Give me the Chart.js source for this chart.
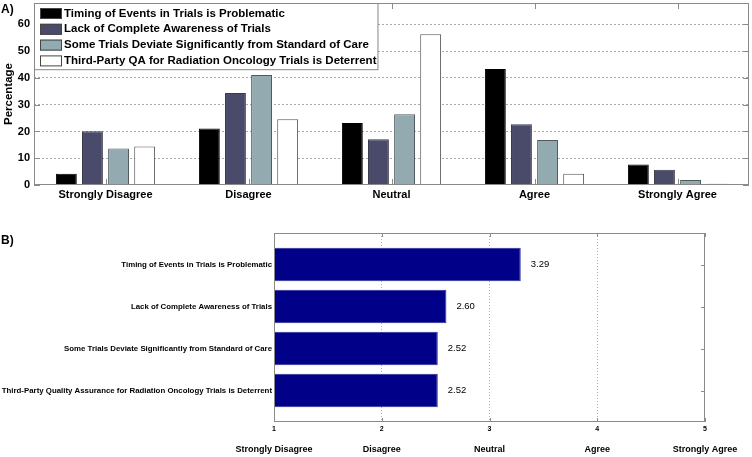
<!DOCTYPE html>
<html>
<head>
<meta charset="utf-8">
<script src="https://cdn.jsdelivr.net/npm/chart.js@4.4.0/dist/chart.umd.min.js"></script>
<style>
  html, body { margin: 0; padding: 0; background: #fff; }
  #wrap { position: relative; width: 752px; height: 457px; overflow: hidden; font-family: Arial, "Liberation Sans", sans-serif; }
  canvas { position: absolute; left: 0; }
  #chartA { top: 0; }
  #chartB { top: 225px; }
  .panel { position: absolute; left: 1px; font-weight: bold; font-size: 12px; line-height: 14px; }
</style>
</head>
<body>
<div id="wrap">
  <canvas id="chartA" width="752" height="205"></canvas>
  <canvas id="chartB" width="752" height="232"></canvas>
  <div class="panel" style="top:2px">A)</div>
  <div class="panel" style="top:233px">B)</div>
</div>
<script>
const FONT = 'Arial, "Liberation Sans", sans-serif';

// Panel A: distribution of answers (%)
const likert = ["Strongly Disagree", "Disagree", "Neutral", "Agree", "Strongly Agree"];
const seriesNames = [
  "Timing of Events in Trials is Problematic",
  "Lack of Complete Awareness of Trials",
  "Some Trials Deviate Significantly from Standard of Care",
  "Third-Party QA for Radiation Oncology Trials is Deterrent",
];
const timingPct = [4.2, 21.1, 23.2, 43.3, 7.7];
const awarenessPct = [20.1, 34.4, 17.1, 22.7, 5.7];
const deviatePct = [13.6, 41.1, 26.4, 16.8, 1.9];
const qaPct = [14.4, 24.6, 56.3, 4.2, 0.5];
const pctTicks = [0, 10, 20, 30, 40, 50, 60];

// Panel B: mean score per statement
const statements = [
  "Timing of Events in Trials is Problematic",
  "Lack of Complete Awareness of Trials",
  "Some Trials Deviate Significantly from Standard of Care",
  "Third-Party Quality Assurance for Radiation Oncology Trials is Deterrent",
];
const meanScores = [3.29, 2.60, 2.52, 2.52];
const scoreTicks = [1, 2, 3, 4, 5];

Chart.defaults.font.family = FONT;
Chart.defaults.color = "#000";

// matlab-ish box around the plot, ticks pointing inward
const frame = {
  id: "frame",
  afterDatasetsDraw(chart, args, opts) {
    const { ctx, chartArea: a, scales } = chart;
    const xs = scales.x, ys = scales.y;
    const len = opts.tick;
    ctx.save();
    ctx.strokeStyle = opts.color;
    ctx.lineWidth = 1;
    ctx.strokeRect(a.left + 0.5, a.top + 0.5, a.right - a.left - 1, a.bottom - a.top - 1);
    ctx.beginPath();
    xs.ticks.forEach((t, i) => {
      const x = Math.round(xs.getPixelForTick(i)) + 0.5;
      ctx.moveTo(x, a.top); ctx.lineTo(x, a.top + len);
      ctx.moveTo(x, a.bottom); ctx.lineTo(x, a.bottom - len);
    });
    ys.ticks.forEach((t, i) => {
      const y = Math.round(ys.getPixelForTick(i)) + 0.5;
      if (opts.leftTicks) { ctx.moveTo(a.left, y); ctx.lineTo(a.left + len, y); }
      ctx.moveTo(a.right, y); ctx.lineTo(a.right - len, y);
    });
    ctx.stroke();
    ctx.restore();
  },
};

// boxed legend in the top-left corner of the plot
const boxLegend = {
  id: "boxLegend",
  afterDraw(chart, args, opts) {
    const { ctx, chartArea: a } = chart;
    const sets = chart.data.datasets;
    ctx.save();
    ctx.font = `bold ${opts.size}px ${FONT}`;
    const w = Math.max(...sets.map(d => ctx.measureText(d.label).width)) + 31;
    const rowH = 15.8;
    const h = sets.length * rowH + 3;
    ctx.fillStyle = "#fff";
    ctx.fillRect(a.left, a.top, w, h);
    ctx.strokeStyle = "#888";
    ctx.strokeRect(a.left + 0.5, a.top + 0.5, w, h);
    ctx.textBaseline = "middle";
    sets.forEach((d, i) => {
      const cy = a.top + 10.5 + i * rowH;
      ctx.fillStyle = d.backgroundColor;
      ctx.fillRect(a.left + 6, cy - 5.5, 22, 11);
      ctx.strokeStyle = "#444";
      ctx.strokeRect(a.left + 6.5, cy - 5, 21, 10);
      ctx.fillStyle = "#000";
      ctx.fillText(d.label, a.left + 30, cy);
    });
    ctx.restore();
  },
};

new Chart(document.getElementById("chartA"), {
  type: "bar",
  data: {
    labels: likert,
    datasets: [
      { label: seriesNames[0], data: timingPct, backgroundColor: "#000000", borderColor: "#000000" },
      { label: seriesNames[1], data: awarenessPct, backgroundColor: "#4a4a6b", borderColor: "#3a3a4a" },
      { label: seriesNames[2], data: deviatePct, backgroundColor: "#94aab1", borderColor: "#505a5e" },
      { label: seriesNames[3], data: qaPct, backgroundColor: "#ffffff", borderColor: "#555555" },
    ],
  },
  options: {
    responsive: false,
    animation: false,
    devicePixelRatio: 1,
    layout: { padding: { top: 3, right: 3, left: 0, bottom: 0 } },
    datasets: { bar: { borderWidth: 1, categoryPercentage: 0.73, barPercentage: 0.8 } },
    plugins: {
      legend: { display: false },
      tooltip: { enabled: false },
      frame: { color: "#8a8a8a", tick: 6, leftTicks: true },
      boxLegend: { size: 11.5 },
    },
    scales: {
      x: {
        grid: { display: false, drawTicks: false },
        border: { display: false },
        ticks: { font: { size: 11, weight: "bold" }, padding: 3, maxRotation: 0 },
        afterFit: s => { s.height = 20; s.paddingLeft = 0; s.paddingRight = 0; },
      },
      y: {
        min: 0,
        max: 68,
        afterBuildTicks: s => { s.ticks = pctTicks.map(v => ({ value: v })); },
        grid: {
          drawTicks: false,
          color: c => (c.tick && c.tick.value === 0 ? "rgba(0,0,0,0)" : "#a8a8a8"),
          borderDash: [2, 2],
        },
        border: { display: false, dash: [2, 2] },
        ticks: { font: { size: 11, weight: "bold" }, padding: 4 },
        title: { display: true, text: "Percentage", font: { size: 11.5, weight: "bold" }, padding: { top: 2, bottom: 0 } },
        afterFit: s => { s.width = 34; s.paddingTop = 0; s.paddingBottom = 0; },
      },
    },
  },
  plugins: [frame, boxLegend],
});

// numbers at the end of each bar
const valueLabels = {
  id: "valueLabels",
  afterDatasetsDraw(chart) {
    const { ctx } = chart;
    const meta = chart.getDatasetMeta(0);
    ctx.save();
    ctx.font = `9.5px ${FONT}`;
    ctx.fillStyle = "#000";
    ctx.textBaseline = "middle";
    meta.data.forEach((bar, i) => {
      ctx.fillText(meanScores[i].toFixed(2), bar.x + 10, bar.y);
    });
    ctx.restore();
  },
};

// agreement words under the score ticks
const scaleWords = {
  id: "scaleWords",
  afterDraw(chart) {
    const { ctx, chartArea: a } = chart;
    const xs = chart.scales.x;
    ctx.save();
    ctx.font = `bold 9px ${FONT}`;
    ctx.fillStyle = "#000";
    ctx.textAlign = "center";
    ctx.textBaseline = "middle";
    likert.forEach((w, i) => {
      const half = ctx.measureText(w).width / 2;
      const x = Math.min(xs.getPixelForValue(scoreTicks[i]), chart.width - 2 - half);
      ctx.fillText(w, x, a.bottom + 28);
    });
    ctx.restore();
  },
};

new Chart(document.getElementById("chartB"), {
  type: "bar",
  data: {
    datasets: [{
      data: meanScores.map((v, i) => ({ x: v, y: i + 1 })),
      backgroundColor: "#000088",
      borderColor: "#2a2a9a",
      borderWidth: 1,
      categoryPercentage: 1,
      barPercentage: 0.8,
    }],
  },
  options: {
    indexAxis: "y",
    responsive: false,
    animation: false,
    devicePixelRatio: 1,
    layout: { padding: { top: 8, right: 47, left: 0, bottom: 0 } },
    plugins: {
      legend: { display: false },
      tooltip: { enabled: false },
      frame: { color: "#8a8a8a", tick: 4, leftTicks: false },
    },
    scales: {
      x: {
        type: "linear",
        min: 1,
        max: 5,
        afterBuildTicks: s => { s.ticks = scoreTicks.map(v => ({ value: v })); },
        grid: {
          drawTicks: false,
          color: c => (c.tick && (c.tick.value === 1 || c.tick.value === 5) ? "rgba(0,0,0,0)" : "#b0b0b0"),
          borderDash: [1, 2],
        },
        border: { display: false, dash: [1, 2] },
        ticks: { font: { size: 7, weight: "bold" }, padding: 3 },
        afterFit: s => { s.height = 35; s.paddingLeft = 0; s.paddingRight = 0; },
      },
      y: {
        type: "linear",
        reverse: true,
        offset: false,
        bounds: "data",
        min: 0.25,
        max: 4.75,
        afterDataLimits: s => { s.min = 0.25; s.max = 4.75; },
        afterBuildTicks: s => { s.ticks = statements.map((t, i) => ({ value: i + 1 })); },
        grid: { display: false, drawTicks: false, offset: false },
        border: { display: false },
        ticks: {
          font: { size: 7.85, weight: "bold" },
          padding: 2,
          callback: v => statements[v - 1] || "",
        },
        afterFit: s => { s.width = 274; s.paddingTop = 0; s.paddingBottom = 0; },
      },
    },
  },
  plugins: [frame, valueLabels, scaleWords],
});
</script>
</body>
</html>
